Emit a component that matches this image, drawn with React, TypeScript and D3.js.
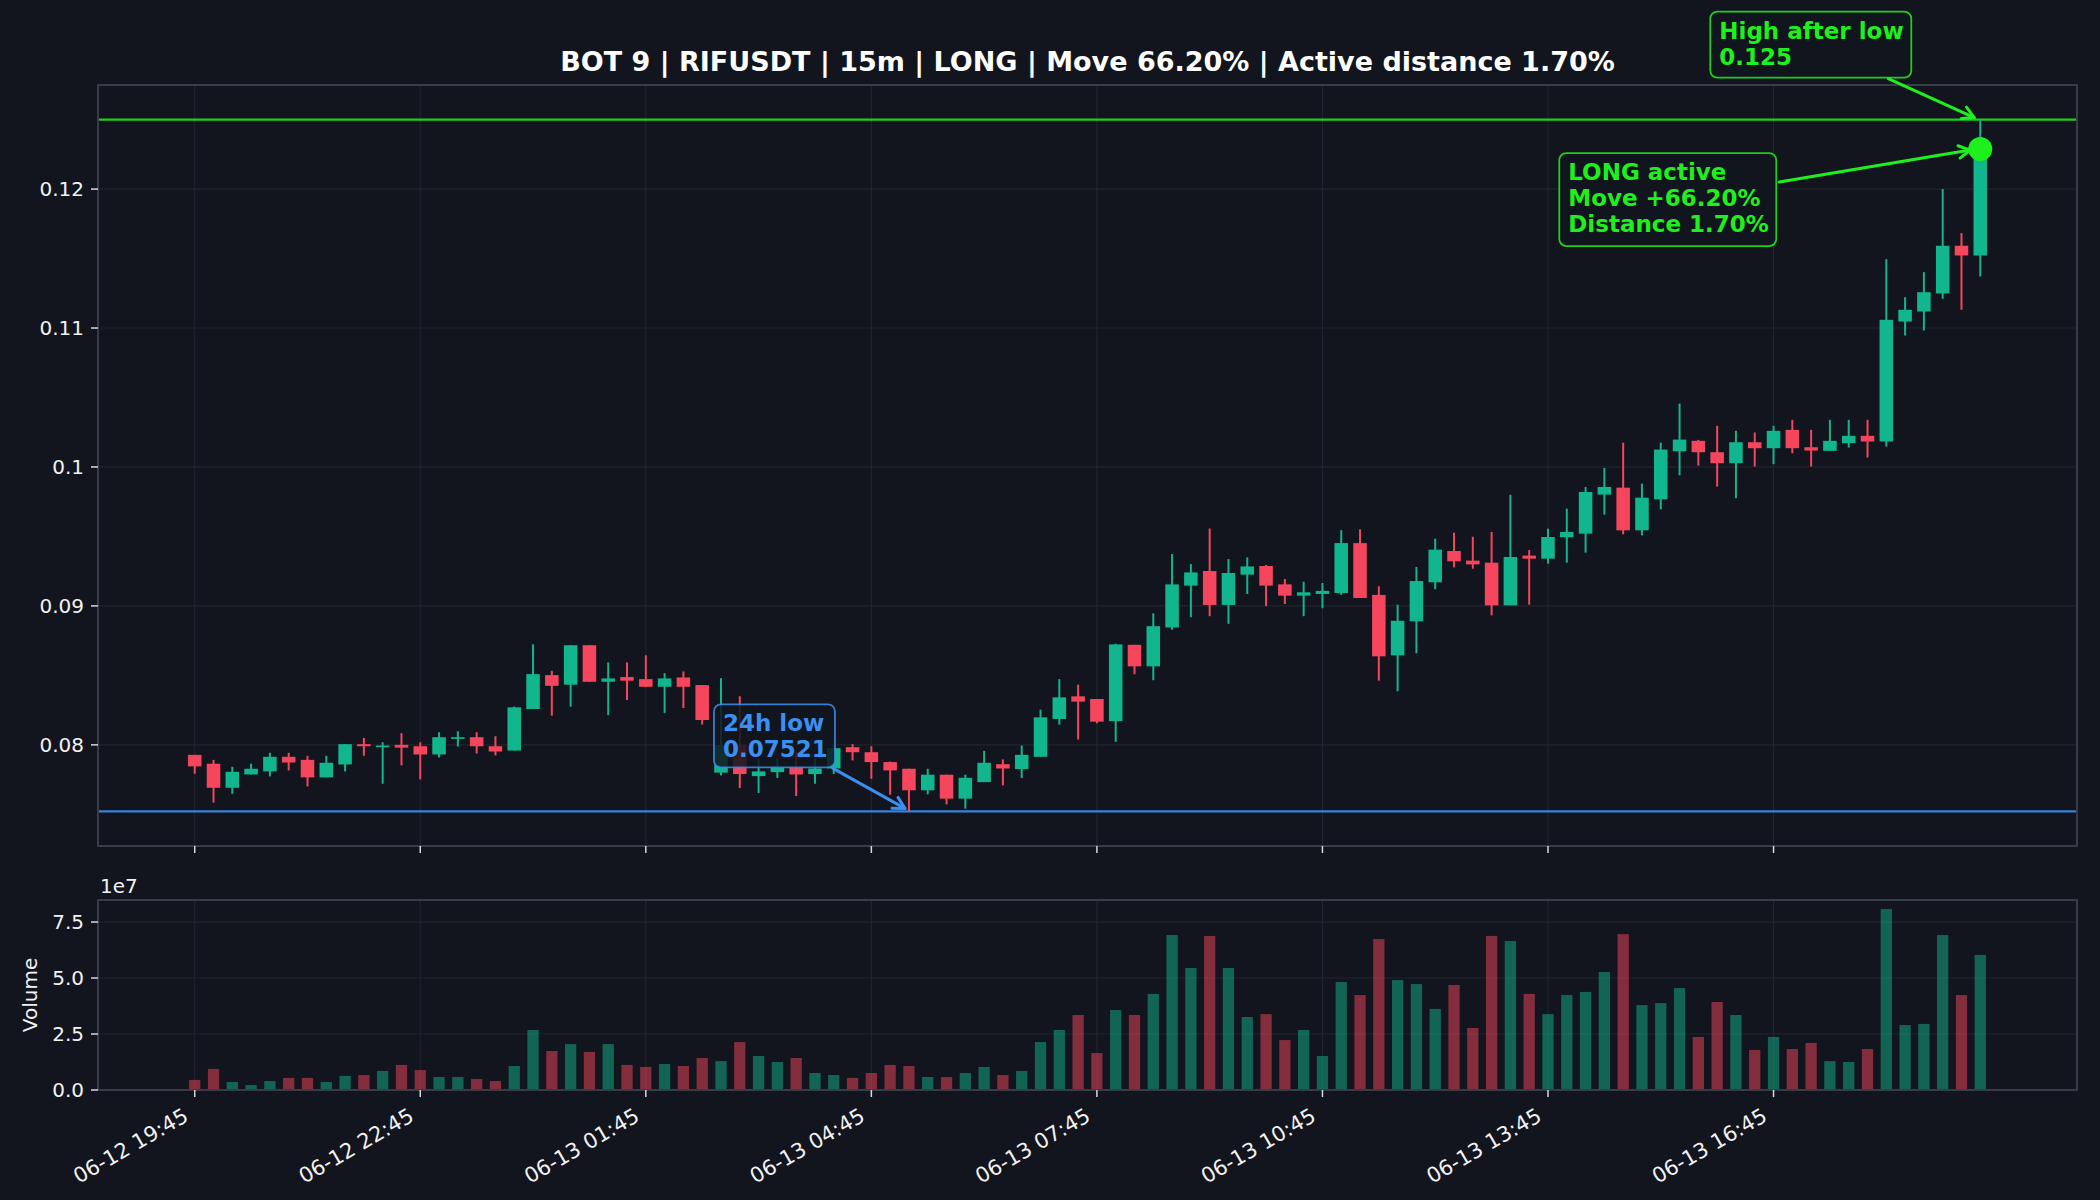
import React from 'react'
import * as d3 from 'd3'

// 15m candles, 06-12 19:45 -> 06-13 19:30
const opens = [
  0.07928, 0.07864, 0.07691, 0.07787, 0.07809, 0.07914, 0.07892, 0.07766, 0.07859, 0.08005,
  0.07983, 0.08, 0.0799, 0.07931, 0.08043, 0.08055, 0.0799, 0.07959, 0.08258, 0.08502,
  0.08433, 0.08717, 0.08454, 0.08488, 0.08473, 0.08418, 0.08485, 0.0843, 0.078, 0.08,
  0.07775, 0.07804, 0.0784, 0.0779, 0.0783, 0.07983, 0.07947, 0.07876, 0.07828, 0.07673,
  0.07785, 0.07613, 0.07732, 0.07861, 0.07826, 0.07914, 0.08186, 0.08349, 0.0833, 0.08171,
  0.0872, 0.08565, 0.08845, 0.09146, 0.09251, 0.09007, 0.09225, 0.09287, 0.09155, 0.09074,
  0.09086, 0.09093, 0.09452, 0.09079, 0.08644, 0.08889, 0.0917, 0.09395, 0.09326, 0.09311,
  0.09004, 0.09362, 0.0934, 0.09494, 0.0952, 0.09801, 0.09851, 0.09544, 0.09767, 0.10113,
  0.10188, 0.10106, 0.10027, 0.10178, 0.10135, 0.10267, 0.10142, 0.10116, 0.10171, 0.10224,
  0.10183, 0.11047, 0.11119, 0.11249, 0.11592, 0.11522,
]
const highs = [
  0.07928, 0.07892, 0.07842, 0.07864, 0.07943, 0.07943, 0.07921, 0.07921, 0.08005, 0.0805,
  0.08019, 0.08084, 0.08019, 0.08091, 0.08098, 0.08091, 0.08062, 0.08275, 0.08724, 0.08533,
  0.08717, 0.08717, 0.08593, 0.08593, 0.08645, 0.08516, 0.08528, 0.0843, 0.0848, 0.0835,
  0.079, 0.079, 0.0795, 0.079, 0.08, 0.08005, 0.0799, 0.0788, 0.07828, 0.07828,
  0.07785, 0.07785, 0.07957, 0.07895, 0.07995, 0.08253, 0.08473, 0.08433, 0.0833, 0.08728,
  0.0872, 0.08947, 0.09373, 0.09301, 0.09557, 0.09337, 0.09349, 0.09294, 0.09194, 0.09174,
  0.09165, 0.09545, 0.09552, 0.09141, 0.09009, 0.0928, 0.09484, 0.09527, 0.09498, 0.09532,
  0.098, 0.09402, 0.09556, 0.097, 0.09856, 0.09993, 0.10175, 0.0988, 0.10175, 0.10456,
  0.10195, 0.10296, 0.1026, 0.10248, 0.10296, 0.10339, 0.10267, 0.10339, 0.10339, 0.10339,
  0.11496, 0.11222, 0.11402, 0.12, 0.11683, 0.125,
]
const lows = [
  0.07792, 0.07584, 0.07648, 0.07787, 0.07773, 0.07816, 0.07701, 0.07766, 0.07809, 0.07921,
  0.0772, 0.07852, 0.07751, 0.07909, 0.07988, 0.07938, 0.07924, 0.07959, 0.08258, 0.0821,
  0.08275, 0.08454, 0.08215, 0.08323, 0.08418, 0.0823, 0.08265, 0.08146, 0.0778, 0.07689,
  0.07653, 0.07761, 0.07632, 0.0772, 0.0779, 0.07888, 0.07756, 0.07641, 0.07521, 0.07644,
  0.07572, 0.07541, 0.07732, 0.07708, 0.07761, 0.07914, 0.08146, 0.08038, 0.08155, 0.08022,
  0.08508, 0.08465, 0.08828, 0.08919, 0.08926, 0.08871, 0.09086, 0.08998, 0.09014, 0.08926,
  0.08983, 0.09079, 0.09057, 0.08462, 0.08386, 0.0866, 0.0912, 0.09278, 0.09268, 0.08932,
  0.09004, 0.09009, 0.09304, 0.09311, 0.09383, 0.09657, 0.09515, 0.09508, 0.09695, 0.0994,
  0.1001, 0.09859, 0.09775, 0.10003, 0.1002, 0.10099, 0.10003, 0.10116, 0.1014, 0.10068,
  0.10147, 0.10946, 0.10982, 0.1121, 0.11131, 0.11371,
]
const closes = [
  0.07845, 0.07691, 0.07806, 0.07828, 0.07914, 0.07873, 0.07766, 0.07871, 0.08005, 0.0799,
  0.07995, 0.0798, 0.07931, 0.08055, 0.08055, 0.0799, 0.07952, 0.0827, 0.08509, 0.08425,
  0.08717, 0.08454, 0.08478, 0.08462, 0.08418, 0.08478, 0.08418, 0.08179, 0.08, 0.0779,
  0.07809, 0.0784, 0.07787, 0.0783, 0.07976, 0.07947, 0.07876, 0.07816, 0.07673, 0.07785,
  0.07613, 0.07763, 0.07871, 0.0783, 0.07928, 0.08198, 0.08342, 0.08311, 0.08167, 0.08723,
  0.08565, 0.08854, 0.09155, 0.09241, 0.09007, 0.09237, 0.09284, 0.09146, 0.09074, 0.09098,
  0.09108, 0.09452, 0.09057, 0.08637, 0.08893, 0.09179, 0.09405, 0.09321, 0.09299, 0.09004,
  0.09352, 0.0934, 0.09496, 0.09532, 0.0982, 0.09856, 0.09544, 0.09779, 0.10125, 0.10197,
  0.10106, 0.10027, 0.10178, 0.10135, 0.1026, 0.10135, 0.10118, 0.10188, 0.10224, 0.10183,
  0.11059, 0.11131, 0.11258, 0.11592, 0.11522, 0.12288,
]
// volume in units of 1e7
const volumes = [
  0.45, 0.94, 0.36, 0.22, 0.4, 0.54, 0.54, 0.36, 0.63, 0.67,
  0.85, 1.12, 0.89, 0.58, 0.58, 0.49, 0.4, 1.07, 2.68, 1.74,
  2.05, 1.7, 2.05, 1.12, 1.03, 1.16, 1.07, 1.43, 1.29, 2.14,
  1.52, 1.25, 1.43, 0.76, 0.67, 0.54, 0.76, 1.12, 1.07, 0.58,
  0.58, 0.76, 1.03, 0.67, 0.85, 2.14, 2.68, 3.35, 1.65, 3.57,
  3.35, 4.29, 6.92, 5.45, 6.88, 5.45, 3.26, 3.39, 2.23, 2.68,
  1.52, 4.82, 4.24, 6.74, 4.91, 4.73, 3.62, 4.69, 2.77, 6.88,
  6.65, 4.29, 3.39, 4.24, 4.38, 5.27, 6.96, 3.79, 3.88, 4.55,
  2.37, 3.93, 3.35, 1.79, 2.37, 1.83, 2.1, 1.29, 1.25, 1.83,
  8.08, 2.9, 2.95, 6.92, 4.24, 6.03,
]

const xTickIndex = [0, 12, 24, 36, 48, 60, 72, 84]
const xTickLabels = ['06-12 19:45', '06-12 22:45', '06-13 01:45', '06-13 04:45', '06-13 07:45', '06-13 10:45', '06-13 13:45', '06-13 16:45']
const priceTicks = [0.08, 0.09, 0.1, 0.11, 0.12]
const priceTickLabels = ['0.08', '0.09', '0.1', '0.11', '0.12']
const volumeTicks = [0, 2.5, 5, 7.5]
const volumeTickLabels = ['0.0', '2.5', '5.0', '7.5']

const title = 'BOT 9 | RIFUSDT | 15m | LONG | Move 66.20% | Active distance 1.70%'
const lowValue = 0.07521
const highValue = 0.125
const lowLines = ['24h low', '0.07521']
const highLines = ['High after low', '0.125']
const activeLines = ['LONG active', 'Move +66.20%', 'Distance 1.70%']

const BG = '#12151d'
const SPINE = '#373c47'
const GRID = '#20242e'
const TEXT = '#f2f2f2'
const UP = '#12b68e'
const DOWN = '#f6465d'
const LIME = '#1ef01e'
const BLUE = '#3b8ff0'
const FONT = '"DejaVu Sans", Verdana, sans-serif'

const PL = 98
const PR = 2077
const PT = 85
const PB = 846
const VT = 900
const VB = 1090

function Arrow({ x1, y1, x2, y2, color }: { x1: number; y1: number; x2: number; y2: number; color: string }) {
  const a = Math.atan2(y2 - y1, x2 - x1)
  const hl = 13
  const ha = 0.5
  const p1 = [x2 - hl * Math.cos(a - ha), y2 - hl * Math.sin(a - ha)]
  const p2 = [x2 - hl * Math.cos(a + ha), y2 - hl * Math.sin(a + ha)]
  return (
    <g stroke={color} strokeWidth={3} fill="none" strokeLinecap="round" strokeLinejoin="round">
      <line x1={x1} y1={y1} x2={x2} y2={y2} />
      <polyline points={`${p1[0]},${p1[1]} ${x2},${y2} ${p2[0]},${p2[1]}`} />
    </g>
  )
}

function Label({ x, y, w, h, lines, color, size, lh }: {
  x: number; y: number; w: number; h: number; lines: string[]; color: string; size: number; lh: number
}) {
  return (
    <g>
      <rect x={x} y={y} width={w} height={h} rx={7} fill={BG} fillOpacity={0.85} stroke={color} strokeOpacity={0.85} strokeWidth={1.8} />
      {lines.map((t, i) => (
        <text key={i} x={x + 9} y={y + 27 + i * lh} fill={color} fontSize={size} fontWeight="bold" fontFamily={FONT}>
          {t}
        </text>
      ))}
    </g>
  )
}

export default function App() {
  const n = closes.length
  const bodyW = 0.72
  const volW = 0.6
  const x = d3.scaleLinear()
    .domain([-bodyW / 2 - 0.05 * (n - 1 + bodyW), n - 1 + bodyW / 2 + 0.05 * (n - 1 + bodyW)])
    .range([PL, PR])
  const lo = d3.min(lows) as number
  const hi = d3.max(highs) as number
  const span = hi - lo
  const y = d3.scaleLinear().domain([lo - 0.05 * span, hi + 0.05 * span]).range([PB, PT])
  const yv = d3.scaleLinear().domain([0, (d3.max(volumes) as number) * 1.05]).range([VB, VT])
  const unit = x(1) - x(0)

  const lowIdx = lows.indexOf(lo)
  const hiIdx = highs.indexOf(hi)
  const lowX = x(lowIdx)
  const lowY = y(lowValue)
  const hiX = x(hiIdx)
  const hiY = y(highValue)
  const dotY = y(closes[n - 1])

  return (
    <div style={{ position: 'absolute', left: 0, top: 0 }}>
      <svg width={2100} height={1200} style={{ display: 'block', background: BG }}>
        <rect width={2100} height={1200} fill={BG} />

        {/* grid */}
        <g stroke={GRID} strokeWidth={1.2}>
          {xTickIndex.map((i) => (
            <g key={i}>
              <line x1={x(i)} x2={x(i)} y1={PT} y2={PB} />
              <line x1={x(i)} x2={x(i)} y1={VT} y2={VB} />
            </g>
          ))}
          {priceTicks.map((p) => <line key={p} x1={PL} x2={PR} y1={y(p)} y2={y(p)} />)}
          {volumeTicks.map((v) => <line key={v} x1={PL} x2={PR} y1={yv(v)} y2={yv(v)} />)}
        </g>

        {/* reference lines */}
        <line x1={PL} x2={PR} y1={hiY} y2={hiY} stroke={LIME} strokeWidth={2.2} opacity={0.85} />
        <line x1={PL} x2={PR} y1={lowY} y2={lowY} stroke={BLUE} strokeWidth={2.2} opacity={0.9} />

        {/* candles */}
        {closes.map((c, i) => {
          const o = opens[i]
          const col = c >= o ? UP : DOWN
          const top = y(Math.max(o, c))
          const bh = Math.max(Math.abs(y(o) - y(c)), 1.6)
          return (
            <g key={i}>
              <line x1={x(i)} x2={x(i)} y1={y(highs[i])} y2={y(lows[i])} stroke={col} strokeWidth={2} />
              <rect x={x(i) - (bodyW * unit) / 2} y={top} width={bodyW * unit} height={bh} fill={col} />
            </g>
          )
        })}

        {/* volume */}
        {volumes.map((v, i) => (
          <rect
            key={i}
            x={x(i) - (volW * unit) / 2}
            y={yv(v)}
            width={volW * unit}
            height={VB - yv(v)}
            fill={closes[i] >= opens[i] ? UP : DOWN}
            fillOpacity={0.5}
          />
        ))}

        {/* spines */}
        <rect x={PL} y={PT} width={PR - PL} height={PB - PT} fill="none" stroke={SPINE} strokeWidth={2} />
        <rect x={PL} y={VT} width={PR - PL} height={VB - VT} fill="none" stroke={SPINE} strokeWidth={2} />

        {/* ticks */}
        <g stroke="#d6d9df" strokeWidth={1.5}>
          {xTickIndex.map((i) => (
            <g key={i}>
              <line x1={x(i)} x2={x(i)} y1={PB} y2={PB + 7} />
              <line x1={x(i)} x2={x(i)} y1={VB} y2={VB + 7} />
            </g>
          ))}
          {priceTicks.map((p) => <line key={p} x1={PL - 7} x2={PL} y1={y(p)} y2={y(p)} />)}
          {volumeTicks.map((v) => <line key={v} x1={PL - 7} x2={PL} y1={yv(v)} y2={yv(v)} />)}
        </g>

        <g fill={TEXT} fontFamily={FONT} fontSize={20}>
          {priceTicks.map((p, k) => (
            <text key={p} x={PL - 14} y={y(p)} textAnchor="end" dominantBaseline="central">{priceTickLabels[k]}</text>
          ))}
          {volumeTicks.map((v, k) => (
            <text key={v} x={PL - 14} y={yv(v)} textAnchor="end" dominantBaseline="central">{volumeTickLabels[k]}</text>
          ))}
          {xTickIndex.map((i, k) => (
            <text key={i} x={x(i) - 5} y={VB + 30} textAnchor="end" fontSize={21} transform={`rotate(-30 ${x(i) - 5} ${VB + 30})`}>
              {xTickLabels[k]}
            </text>
          ))}
          <text x={PL + 2} y={VT - 7}>1e7</text>
          <text x={37} y={(VT + VB) / 2} textAnchor="middle" transform={`rotate(-90 37 ${(VT + VB) / 2})`}>Volume</text>
        </g>

        <text x={(PL + PR) / 2} y={71} textAnchor="middle" fill="#ffffff" fontFamily={FONT} fontSize={27} fontWeight="bold">
          {title}
        </text>

        {/* annotations */}
        <circle cx={hiX} cy={dotY} r={12} fill={LIME} />

        <Arrow x1={lowX - 76} y1={lowY - 43} x2={lowX - 4} y2={lowY - 3} color={BLUE} />
        <Label x={lowX - 195} y={lowY - 107} w={121} h={63} lines={lowLines} color={BLUE} size={23} lh={26} />

        <Arrow x1={hiX - 92} y1={hiY - 41} x2={hiX - 6} y2={hiY - 2} color={LIME} />
        <Label x={hiX - 270} y={hiY - 108} w={201} h={66} lines={highLines} color={LIME} size={23} lh={26} />

        <Arrow x1={hiX - 201} y1={dotY + 33} x2={hiX - 10} y2={dotY + 1} color={LIME} />
        <Label x={hiX - 421} y={dotY + 4} w={217} h={93} lines={activeLines} color={LIME} size={23} lh={26} />
      </svg>
    </div>
  )
}
